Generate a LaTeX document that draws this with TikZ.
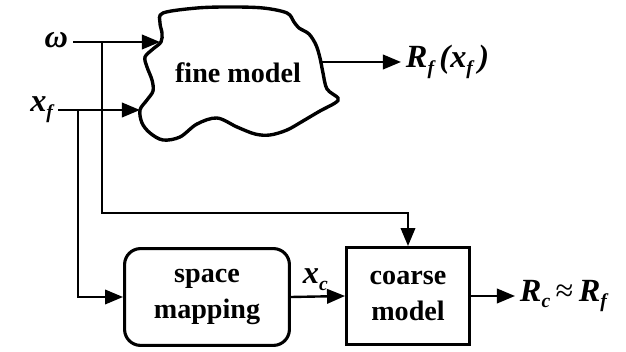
\documentclass[tikz,border=0pt]{standalone}
\usepackage{fontspec}
\setmainfont{Liberation Serif}
\usepackage{tikz}
\usetikzlibrary{arrows.meta,positioning}
\newcommand\lsub[1]{\raisebox{-0.45ex}{\fontsize{14}{14}\selectfont #1}}

\begin{document}
\begin{tikzpicture}[x=0.025cm,y=-0.025cm, font=\fontsize{20}{25}\selectfont\bfseries, b/.style={draw,align=center,minimum height=2.42cm,line width=2.2pt}, lbl/.style={font=\fontsize{23}{25}\selectfont\bfseries\itshape}, a/.style={-{Triangle[length=0.45cm,width=0.36cm]},line width=1.7pt}]
\useasboundingbox (0,0) rectangle (626,352);
% fine model outline
\draw[line width=2.4pt] plot[smooth cycle,tension=0.55] coordinates {(163,13) (197,8) (230,7) (263,8) (287,13) (294,22) (299,28) (309,34) (316,45) (320,58) (323,73) (327,89) (338,98) (335,103) (320,111) (303,121) (287,130) (270,135) (255,134) (237,127) (217,118) (197,124) (180,137) (163,140) (150,133) (142,123) (140,110) (147,100) (153,91) (152,80) (147,67) (145,57) (153,49) (161,42) (162,33) (160,23)};
\node (fine) at (238,73) {fine model};
\coordinate (fw) at (160,42);
\coordinate (fx) at (140,110);
\coordinate (fo) at (322,62);
% blocks
\node[b,rounded corners=0.4cm,minimum width=4.12cm] (sm) at (207,297) {space\\mapping};
\node[b,minimum width=3.07cm] (cm) at (408,296) {coarse\\model};
% labels
\node[lbl,anchor=east] (om) at (73,40) {ω};
\node[lbl,anchor=east] (xf) at (58,110) {x\lsub{f}};
\node[lbl,anchor=west] (rf) at (401,62) {R\lsub{f}\,(x\lsub{f}\,)};
\node[lbl,anchor=west] (rc) at (515,296) {R\lsub{c}\,\textmd{\upshape≈}\,R\lsub{f}};
\coordinate (j1) at (102,42);
\coordinate (j2) at (78,110);
% connectors
\draw[a] (om.east |- fw) -- (fw);
\draw[a] (xf.east) -- (fx);
\draw[a] (j1) -- ++(0,171) -| (cm.north);
\draw[a] (j2) |- (sm.west);
\draw[a] (sm.east) -- node[lbl,above,pos=0.45] (xc) {x\lsub{c}} (cm.west);
\draw[a] (fo) -- (rf.west);
\draw[a] (cm.east) -- (rc.west);
\end{tikzpicture}
\end{document}
